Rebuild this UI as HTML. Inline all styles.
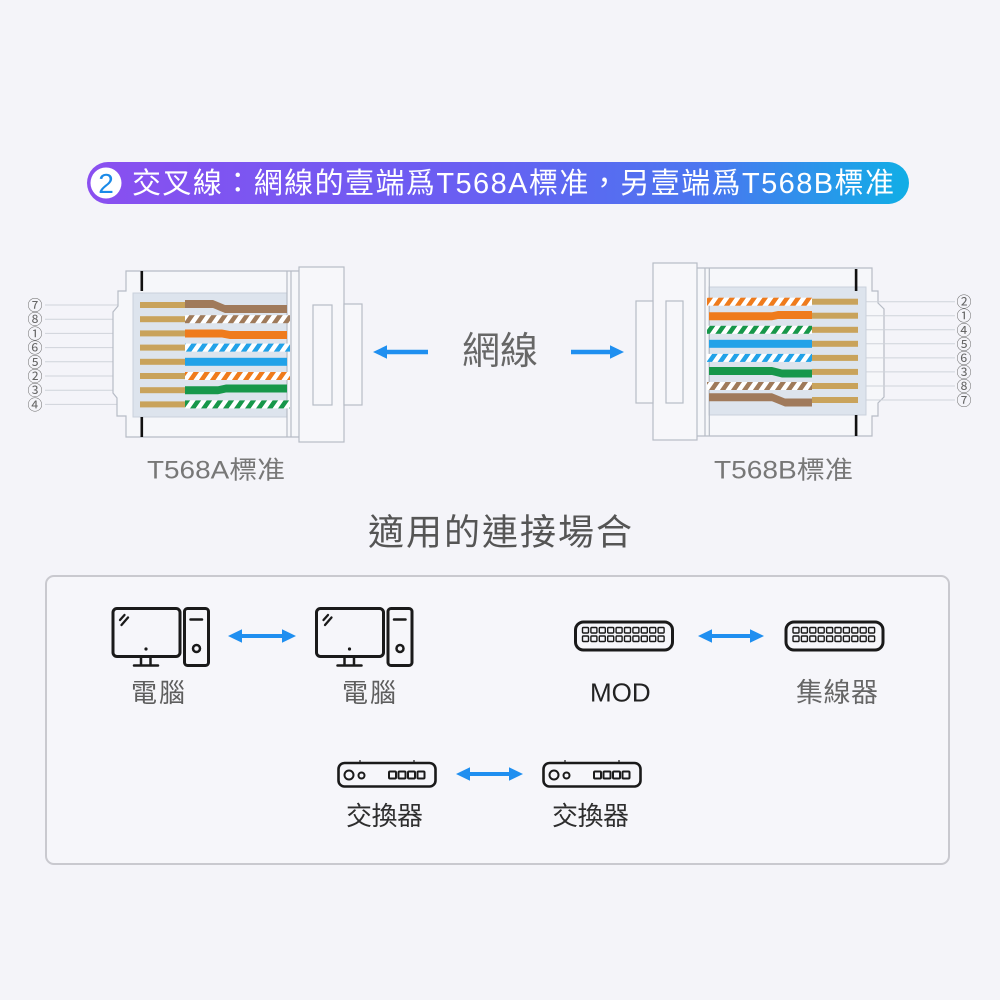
<!DOCTYPE html>
<html>
<head>
<meta charset="utf-8">
<style>
  html,body{margin:0;padding:0;background:#f4f4f9;}
  svg{display:block;}
  text{font-family:"Liberation Sans","Noto Sans CJK TC","Noto Sans CJK SC",sans-serif;}
  .cd{font-family:"DejaVu Sans","Noto Sans CJK TC",sans-serif;}
</style>
</head>
<body>
<svg width="1000" height="1000" viewBox="0 0 1000 1000" xmlns="http://www.w3.org/2000/svg">
  <defs>
    <linearGradient id="ban" x1="0" y1="0" x2="1" y2="0">
      <stop offset="0" stop-color="#8a4ff0"/>
      <stop offset="0.45" stop-color="#6a5ef2"/>
      <stop offset="0.75" stop-color="#4b76f0"/>
      <stop offset="1" stop-color="#10aee6"/>
    </linearGradient>
    <pattern id="pBrown" width="11" height="20" patternUnits="userSpaceOnUse" patternTransform="skewX(-35)">
      <rect width="11" height="20" fill="#ffffff"/><rect x="3" width="5.5" height="20" fill="#9f7a5a"/>
    </pattern>
    <pattern id="pBlue" width="11" height="20" patternUnits="userSpaceOnUse" patternTransform="skewX(-35)">
      <rect width="11" height="20" fill="#ffffff"/><rect x="3" width="5.5" height="20" fill="#22a2e8"/>
    </pattern>
    <pattern id="pOrange" width="11" height="20" patternUnits="userSpaceOnUse" patternTransform="skewX(-35)">
      <rect width="11" height="20" fill="#ffffff"/><rect x="3" width="5.5" height="20" fill="#ef7b1c"/>
    </pattern>
    <pattern id="pGreen" width="11" height="20" patternUnits="userSpaceOnUse" patternTransform="skewX(-35)">
      <rect width="11" height="20" fill="#ffffff"/><rect x="3" width="5.5" height="20" fill="#17974a"/>
    </pattern>
  </defs>

  <rect width="1000" height="1000" fill="#f4f4f9"/>

  <!-- Title banner -->
  <rect x="87" y="162" width="822" height="42" rx="21" fill="url(#ban)"/>
  <circle cx="106" cy="183" r="15.5" fill="#ffffff"/>
  <text x="106" y="193" font-size="28" fill="#1a8ae8" text-anchor="middle">2</text>
  <text x="132" y="193" font-size="29" fill="#ffffff" textLength="762">交叉線：網線的壹端爲T568A標准，另壹端爲T568B標准</text>

  <!-- ===== LEFT CONNECTOR ===== -->
  <g stroke="#cfd3da" stroke-width="1">
    <line x1="45" y1="305" x2="140" y2="305"/>
    <line x1="45" y1="319.2" x2="140" y2="319.2"/>
    <line x1="45" y1="333.4" x2="140" y2="333.4"/>
    <line x1="45" y1="347.6" x2="140" y2="347.6"/>
    <line x1="45" y1="361.8" x2="140" y2="361.8"/>
    <line x1="45" y1="376" x2="140" y2="376"/>
    <line x1="45" y1="390.2" x2="140" y2="390.2"/>
    <line x1="45" y1="404.4" x2="140" y2="404.4"/>
  </g>
  <g class="cd" font-size="15" fill="#666" text-anchor="middle">
    <text x="35" y="310.5">⑦</text>
    <text x="35" y="324.7">⑧</text>
    <text x="35" y="338.9">①</text>
    <text x="35" y="353.1">⑥</text>
    <text x="35" y="367.3">⑤</text>
    <text x="35" y="381.5">②</text>
    <text x="35" y="395.7">③</text>
    <text x="35" y="409.9">④</text>
  </g>
  <!-- body outline -->
  <path d="M299,271 H126 V291 H118 V306 L113,312 V393 L117,398 V416 H126 V437 H299" fill="#f6f7fa" stroke="#b7bcc6" stroke-width="1.2"/>
  <rect x="133" y="293" width="154" height="124" fill="#dde4ed" stroke="#c9d1dc" stroke-width="1"/>
  <line x1="287" y1="271" x2="287" y2="437" stroke="#b7bcc6" stroke-width="1.2"/>
  <line x1="291" y1="271" x2="291" y2="437" stroke="#b7bcc6" stroke-width="1.2"/>
  <rect x="140.5" y="271" width="2.6" height="20" fill="#111"/>
  <rect x="140.5" y="417" width="2.6" height="20" fill="#111"/>
  <!-- pins -->
  <g fill="#c9a35b">
    <rect x="140" y="302" width="45" height="6"/>
    <rect x="140" y="316.2" width="45" height="6"/>
    <rect x="140" y="330.4" width="45" height="6"/>
    <rect x="140" y="344.6" width="45" height="6"/>
    <rect x="140" y="358.8" width="45" height="6"/>
    <rect x="140" y="373" width="45" height="6"/>
    <rect x="140" y="387.2" width="45" height="6"/>
    <rect x="140" y="401.4" width="45" height="6"/>
  </g>
  <!-- wires -->
  <polygon points="185,300 213,300 225,305 287,305 287,313 225,313 213,308 185,308" fill="#a07a5b"/>
  <rect x="185" y="315.2" width="105" height="8" fill="url(#pBrown)"/>
  <polygon points="185,329.5 222,329.5 230,331 287,331 287,339 230,339 222,337.5 185,337.5" fill="#ef7b1c"/>
  <rect x="185" y="343.6" width="105" height="8" fill="url(#pBlue)"/>
  <rect x="185" y="357.8" width="102" height="8" fill="#22a2e8"/>
  <rect x="185" y="372" width="105" height="8" fill="url(#pOrange)"/>
  <polygon points="185,386.2 218,386.2 226,384.5 287,384.5 287,392.5 226,392.5 218,394.2 185,394.2" fill="#17974a"/>
  <rect x="185" y="400.4" width="105" height="8" fill="url(#pGreen)"/>
  <!-- housing -->
  <rect x="299" y="267" width="45" height="175" fill="#f7f7fa" stroke="#b7bcc6" stroke-width="1.2"/>
  <rect x="313" y="305" width="19" height="100" fill="none" stroke="#b7bcc6" stroke-width="1.2"/>
  <rect x="344" y="304" width="18" height="101" fill="#f7f7fa" stroke="#b7bcc6" stroke-width="1.2"/>

  <!-- ===== RIGHT CONNECTOR ===== -->
  <path d="M697,268 H872 V291 H878 V303 L884,309 V397 L878,403 V416 H872 V436 H697" fill="#f6f7fa" stroke="#b7bcc6" stroke-width="1.2"/>
  <g stroke="#cfd3da" stroke-width="1">
    <line x1="858" y1="301.7" x2="955" y2="301.7"/>
    <line x1="858" y1="315.7" x2="955" y2="315.7"/>
    <line x1="858" y1="329.8" x2="955" y2="329.8"/>
    <line x1="858" y1="343.8" x2="955" y2="343.8"/>
    <line x1="858" y1="357.9" x2="955" y2="357.9"/>
    <line x1="858" y1="371.9" x2="955" y2="371.9"/>
    <line x1="858" y1="386" x2="955" y2="386"/>
    <line x1="858" y1="400" x2="955" y2="400"/>
  </g>
  <g class="cd" font-size="15" fill="#666" text-anchor="middle">
    <text x="964" y="307.2">②</text>
    <text x="964" y="321.2">①</text>
    <text x="964" y="335.3">④</text>
    <text x="964" y="349.3">⑤</text>
    <text x="964" y="363.4">⑥</text>
    <text x="964" y="377.4">③</text>
    <text x="964" y="391.5">⑧</text>
    <text x="964" y="405.5">⑦</text>
  </g>
  <rect x="709" y="287" width="157" height="128" fill="#dde4ed" stroke="#c9d1dc" stroke-width="1"/>
  <line x1="705" y1="268" x2="705" y2="436" stroke="#b7bcc6" stroke-width="1.2"/>
  <line x1="709.3" y1="268" x2="709.3" y2="436" stroke="#b7bcc6" stroke-width="1.2"/>
  <rect x="854.8" y="269" width="2.6" height="22" fill="#111"/>
  <rect x="854.8" y="415" width="2.6" height="21" fill="#111"/>
  <g fill="#c9a35b">
    <rect x="812" y="298.7" width="46" height="6"/>
    <rect x="812" y="312.7" width="46" height="6"/>
    <rect x="812" y="326.8" width="46" height="6"/>
    <rect x="812" y="340.8" width="46" height="6"/>
    <rect x="812" y="354.9" width="46" height="6"/>
    <rect x="812" y="368.9" width="46" height="6"/>
    <rect x="812" y="383" width="46" height="6"/>
    <rect x="812" y="397" width="46" height="6"/>
  </g>
  <rect x="707" y="297.7" width="105" height="8" fill="url(#pOrange)"/>
  <polygon points="709,312.3 772,312.3 778,311 812,311 812,319 778,319 772,320.3 709,320.3" fill="#ef7b1c"/>
  <rect x="707" y="325.8" width="105" height="8" fill="url(#pGreen)"/>
  <rect x="709" y="339.8" width="103" height="8" fill="#22a2e8"/>
  <rect x="707" y="353.9" width="105" height="8" fill="url(#pBlue)"/>
  <polygon points="709,367 772,367 782,369.5 812,369.5 812,377.5 782,377.5 772,375 709,375" fill="#17974a"/>
  <rect x="707" y="382" width="105" height="8" fill="url(#pBrown)"/>
  <polygon points="709,393.3 772,393.3 785,398.5 812,398.5 812,406.5 785,406.5 772,401.3 709,401.3" fill="#a07a5b"/>
  <!-- housing -->
  <rect x="653" y="263" width="44" height="177" fill="#f7f7fa" stroke="#b7bcc6" stroke-width="1.2"/>
  <rect x="666" y="301" width="17" height="102" fill="none" stroke="#b7bcc6" stroke-width="1.2"/>
  <rect x="636" y="301" width="17" height="102" fill="#f7f7fa" stroke="#b7bcc6" stroke-width="1.2"/>

  <!-- middle label + arrows -->
  <polygon points="373,352 387,345.3 387,349.7 428,349.7 428,354.3 387,354.3 387,358.7" fill="#1f8ff0"/>
  <polygon points="624,352 610,345.3 610,349.7 571,349.7 571,354.3 610,354.3 610,358.7" fill="#1f8ff0"/>
  <text x="500" y="364" font-size="38" fill="#676767" text-anchor="middle">網線</text>

  <text x="147" y="478.5" font-size="25" fill="#777" textLength="138" lengthAdjust="spacingAndGlyphs">T568A標准</text>
  <text x="714" y="478.5" font-size="25" fill="#777" textLength="139" lengthAdjust="spacingAndGlyphs">T568B標准</text>

  <text x="368" y="544.5" font-size="36" fill="#555" textLength="264">適用的連接場合</text>

  <!-- bottom box -->
  <rect x="46" y="576" width="903" height="288" rx="8" fill="#f6f6fa" stroke="#c9c9cf" stroke-width="2"/>

  <!-- computer icons -->
  <g fill="none" stroke="#1a1a1a" stroke-width="3" stroke-linecap="round">
    <rect x="113" y="608.5" width="67" height="48" rx="4"/>
    <line x1="120" y1="620" x2="124.5" y2="615" stroke-width="2.3"/>
    <line x1="121.5" y1="625" x2="128" y2="617.5" stroke-width="2.3"/>
    <circle cx="146" cy="649" r="1.6" fill="#1a1a1a" stroke="none"/>
    <line x1="141" y1="657" x2="141" y2="665" stroke-width="2.5"/>
    <line x1="150.5" y1="657" x2="150.5" y2="665" stroke-width="2.5"/>
    <line x1="134" y1="665.5" x2="158" y2="665.5" stroke-width="2.5"/>
    <rect x="184.5" y="608.5" width="24" height="57" rx="3"/>
    <line x1="190.5" y1="619.5" x2="202" y2="619.5" stroke-width="2.5"/>
    <circle cx="196.5" cy="648.5" r="3.5" stroke-width="2.5"/>
  </g>
  <g fill="none" stroke="#1a1a1a" stroke-width="3" stroke-linecap="round" transform="translate(203.5,0)">
    <rect x="113" y="608.5" width="67" height="48" rx="4"/>
    <line x1="120" y1="620" x2="124.5" y2="615" stroke-width="2.3"/>
    <line x1="121.5" y1="625" x2="128" y2="617.5" stroke-width="2.3"/>
    <circle cx="146" cy="649" r="1.6" fill="#1a1a1a" stroke="none"/>
    <line x1="141" y1="657" x2="141" y2="665" stroke-width="2.5"/>
    <line x1="150.5" y1="657" x2="150.5" y2="665" stroke-width="2.5"/>
    <line x1="134" y1="665.5" x2="158" y2="665.5" stroke-width="2.5"/>
    <rect x="184.5" y="608.5" width="24" height="57" rx="3"/>
    <line x1="190.5" y1="619.5" x2="202" y2="619.5" stroke-width="2.5"/>
    <circle cx="196.5" cy="648.5" r="3.5" stroke-width="2.5"/>
  </g>

  <!-- double arrows -->
  <polygon points="228,636 242,629.3 242,634 282,634 282,629.3 296,636 282,642.7 282,638 242,638 242,642.7" fill="#1f8ff0"/>
  <polygon points="698,636 712,629.3 712,634 750,634 750,629.3 764,636 750,642.7 750,638 712,638 712,642.7" fill="#1f8ff0"/>
  <polygon points="456,774 470,767.3 470,772 509,772 509,767.3 523,774 509,780.7 509,776 470,776 470,780.7" fill="#1f8ff0"/>

  <!-- MOD / hub icons -->
  <g fill="none" stroke="#1a1a1a">
    <rect x="575.5" y="622" width="97" height="28" rx="8" stroke-width="3"/>
    <g stroke-width="1.4">
      <rect x="582.5" y="627.5" width="6" height="5.5" rx="1"/><rect x="590.9" y="627.5" width="6" height="5.5" rx="1"/><rect x="599.3" y="627.5" width="6" height="5.5" rx="1"/><rect x="607.7" y="627.5" width="6" height="5.5" rx="1"/><rect x="616.1" y="627.5" width="6" height="5.5" rx="1"/><rect x="624.5" y="627.5" width="6" height="5.5" rx="1"/><rect x="632.9" y="627.5" width="6" height="5.5" rx="1"/><rect x="641.3" y="627.5" width="6" height="5.5" rx="1"/><rect x="649.7" y="627.5" width="6" height="5.5" rx="1"/><rect x="658.1" y="627.5" width="6" height="5.5" rx="1"/>
      <rect x="582.5" y="636" width="6" height="5.5" rx="1"/><rect x="590.9" y="636" width="6" height="5.5" rx="1"/><rect x="599.3" y="636" width="6" height="5.5" rx="1"/><rect x="607.7" y="636" width="6" height="5.5" rx="1"/><rect x="616.1" y="636" width="6" height="5.5" rx="1"/><rect x="624.5" y="636" width="6" height="5.5" rx="1"/><rect x="632.9" y="636" width="6" height="5.5" rx="1"/><rect x="641.3" y="636" width="6" height="5.5" rx="1"/><rect x="649.7" y="636" width="6" height="5.5" rx="1"/><rect x="658.1" y="636" width="6" height="5.5" rx="1"/>
    </g>
  </g>
  <g fill="none" stroke="#1a1a1a" transform="translate(210.5,0)">
    <rect x="575.5" y="622" width="97" height="28" rx="8" stroke-width="3"/>
    <g stroke-width="1.4">
      <rect x="582.5" y="627.5" width="6" height="5.5" rx="1"/><rect x="590.9" y="627.5" width="6" height="5.5" rx="1"/><rect x="599.3" y="627.5" width="6" height="5.5" rx="1"/><rect x="607.7" y="627.5" width="6" height="5.5" rx="1"/><rect x="616.1" y="627.5" width="6" height="5.5" rx="1"/><rect x="624.5" y="627.5" width="6" height="5.5" rx="1"/><rect x="632.9" y="627.5" width="6" height="5.5" rx="1"/><rect x="641.3" y="627.5" width="6" height="5.5" rx="1"/><rect x="649.7" y="627.5" width="6" height="5.5" rx="1"/><rect x="658.1" y="627.5" width="6" height="5.5" rx="1"/>
      <rect x="582.5" y="636" width="6" height="5.5" rx="1"/><rect x="590.9" y="636" width="6" height="5.5" rx="1"/><rect x="599.3" y="636" width="6" height="5.5" rx="1"/><rect x="607.7" y="636" width="6" height="5.5" rx="1"/><rect x="616.1" y="636" width="6" height="5.5" rx="1"/><rect x="624.5" y="636" width="6" height="5.5" rx="1"/><rect x="632.9" y="636" width="6" height="5.5" rx="1"/><rect x="641.3" y="636" width="6" height="5.5" rx="1"/><rect x="649.7" y="636" width="6" height="5.5" rx="1"/><rect x="658.1" y="636" width="6" height="5.5" rx="1"/>
    </g>
  </g>

  <!-- switch icons -->
  <g fill="none" stroke="#1a1a1a">
    <line x1="360" y1="760" x2="360" y2="763" stroke-width="1.2"/>
    <line x1="414" y1="760" x2="414" y2="763" stroke-width="1.2"/>
    <rect x="338.5" y="763" width="97" height="23.5" rx="6" stroke-width="2.6"/>
    <circle cx="349" cy="775" r="4.5" stroke-width="2"/>
    <circle cx="361.5" cy="775.5" r="3" stroke-width="2"/>
    <rect x="389" y="771.5" width="7" height="7" rx="1" stroke-width="2"/>
    <rect x="398.5" y="771.5" width="7" height="7" rx="1" stroke-width="2"/>
    <rect x="408" y="771.5" width="7" height="7" rx="1" stroke-width="2"/>
    <rect x="417.5" y="771.5" width="7" height="7" rx="1" stroke-width="2"/>
  </g>
  <g fill="none" stroke="#1a1a1a" transform="translate(205,0)">
    <line x1="360" y1="760" x2="360" y2="763" stroke-width="1.2"/>
    <line x1="414" y1="760" x2="414" y2="763" stroke-width="1.2"/>
    <rect x="338.5" y="763" width="97" height="23.5" rx="6" stroke-width="2.6"/>
    <circle cx="349" cy="775" r="4.5" stroke-width="2"/>
    <circle cx="361.5" cy="775.5" r="3" stroke-width="2"/>
    <rect x="389" y="771.5" width="7" height="7" rx="1" stroke-width="2"/>
    <rect x="398.5" y="771.5" width="7" height="7" rx="1" stroke-width="2"/>
    <rect x="408" y="771.5" width="7" height="7" rx="1" stroke-width="2"/>
    <rect x="417.5" y="771.5" width="7" height="7" rx="1" stroke-width="2"/>
  </g>

  <!-- labels -->
  <text x="131" y="702" font-size="26" fill="#5e5e5e" textLength="54">電腦</text>
  <text x="342" y="702" font-size="26" fill="#5e5e5e" textLength="54">電腦</text>
  <text x="590" y="701.3" font-size="26" fill="#222">MOD</text>
  <text x="796" y="702" font-size="27" fill="#666" textLength="82">集線器</text>
  <text x="346" y="825" font-size="26" fill="#2e2e2e" textLength="77">交換器</text>
  <text x="552" y="825" font-size="26" fill="#2e2e2e" textLength="77">交換器</text>
</svg>
</body>
</html>
